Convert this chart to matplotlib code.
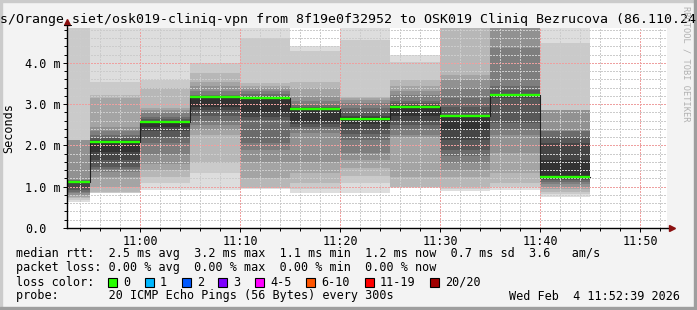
import matplotlib
matplotlib.use('Agg')
import matplotlib.pyplot as plt
from matplotlib.patches import Rectangle
from matplotlib.ticker import MultipleLocator

#Data: minutes relative to 11:00, each step is 5 minutes long
bar_start = [-10, -5, 0, 5, 10, 15, 20, 25, 30, 35, 40]
step_len = 5
median_ms = [1.12, 2.08, 2.57, 3.18, 3.14, 2.88, 2.65, 2.93, 2.72, 3.23, 1.24]

#sorted 20 ping results per step (ms)
pings_ms = [
    [0.64, 0.68, 0.72, 0.76, 0.80, 0.84, 0.88, 0.92, 0.96, 1.08, 1.14, 1.15, 1.15, 1.16, 1.16, 2.13, 2.13, 2.13, 4.90, 5.00],
    [0.84, 0.86, 0.88, 1.00, 1.24, 1.35, 1.42, 1.49, 1.65, 1.85, 2.10, 2.13, 2.18, 2.25, 2.34, 2.46, 3.14, 3.22, 3.55, 5.00],
    [0.92, 1.10, 1.24, 1.40, 1.56, 1.80, 2.05, 2.21, 2.34, 2.45, 2.58, 2.60, 2.65, 2.70, 2.78, 2.86, 2.90, 3.39, 3.59, 5.00],
    [0.92, 1.33, 1.57, 2.26, 2.38, 2.50, 2.60, 2.71, 2.85, 2.94, 3.19, 3.20, 3.21, 3.22, 3.31, 3.43, 3.55, 3.75, 3.99, 5.00],
    [0.95, 0.96, 0.97, 1.21, 1.60, 1.89, 2.06, 2.62, 2.70, 2.78, 3.15, 3.16, 3.20, 3.25, 3.31, 3.39, 3.45, 3.51, 4.60, 5.00],
    [0.85, 0.95, 1.09, 1.33, 1.61, 2.30, 2.41, 2.46, 2.52, 2.57, 2.88, 2.90, 2.94, 2.98, 3.08, 3.18, 3.40, 3.55, 4.28, 4.40],
    [0.84, 1.08, 1.25, 1.45, 1.65, 1.81, 2.13, 2.29, 2.40, 2.52, 2.68, 2.72, 2.80, 2.90, 3.02, 3.10, 3.15, 3.18, 4.56, 5.00],
    [0.98, 0.99, 1.00, 1.24, 2.20, 2.25, 2.40, 2.50, 2.60, 2.71, 2.94, 2.97, 3.02, 3.07, 3.23, 3.33, 3.43, 3.59, 4.03, 4.19],
    [0.90, 0.95, 1.00, 1.24, 1.40, 1.57, 1.75, 1.89, 2.13, 2.37, 2.73, 2.75, 2.94, 3.14, 3.40, 3.59, 3.71, 5.00, 5.00, 5.00],
    [0.92, 1.00, 1.08, 1.33, 1.81, 2.25, 2.40, 2.54, 3.15, 3.20, 3.24, 3.26, 3.35, 3.43, 4.36, 5.00, 5.00, 5.00, 5.00, 5.00],
    [0.75, 0.82, 0.88, 0.94, 1.00, 1.06, 1.12, 1.16, 1.19, 1.22, 1.65, 2.06, 2.20, 2.34, 2.34, 2.86, 2.86, 2.86, 4.48, 5.00],
]

x_ticks = [0, 10, 20, 30, 40, 50]
x_labels = ['11:00', '11:10', '11:20', '11:30', '11:40', '11:50']
y_ticks = [0, 1, 2, 3, 4]
y_labels = ['0.0', '1.0 m', '2.0 m', '3.0 m', '4.0 m']
x_min, x_max = -7.3, 52.7
y_max = 4.848

loss_labels = ['0', '1', '2', '3', '4-5', '6-10', '11-19', '20/20']
loss_colors = ['#26ff00', '#00b8ff', '#0059ff', '#7e00ff', '#ff00ff', '#ff5500', '#ff0000', '#a10000']
loss_box_x = [108, 145, 182, 218, 255, 306, 365, 430]

title = 's/Orange_siet/osk019-cliniq-vpn from 8f19e0f32952 to OSK019 Cliniq Bezrucova (86.110.24'
stats_lines = [
    'median rtt:  2.5 ms avg  3.2 ms max  1.1 ms min  1.2 ms now  0.7 ms sd  3.6   am/s',
    'packet loss: 0.00 % avg  0.00 % max  0.00 % min  0.00 % now',
    'loss color:',
    'probe:       20 ICMP Echo Pings (56 Bytes) every 300s',
]
stamp = 'Wed Feb  4 11:52:39 2026'

W, H = 697, 310
mono = 'DejaVu Sans Mono'

def fx(px):
    return px / W

def fy(py):
    return 1 - py / H

fig = plt.figure(figsize=(W / 100, H / 100), dpi=100)
fig.patch.set_facecolor('#f3f3f3')

#3d border like rrdtool
fig.patches.append(Rectangle((0, fy(2)), 1, 2 / H, transform=fig.transFigure, color='#cbcbcb', zorder=0))
fig.patches.append(Rectangle((0, 0), 2 / W, 1, transform=fig.transFigure, color='#cbcbcb', zorder=0))
fig.patches.append(Rectangle((0, 0), 1, 3 / H, transform=fig.transFigure, color='#9e9e9e', zorder=0))
fig.patches.append(Rectangle((1 - 3 / W, 0), 3 / W, 1, transform=fig.transFigure, color='#9e9e9e', zorder=0))

ax = fig.add_axes([fx(67), fy(228), fx(600), 200 / H])
ax.set_facecolor('white')

#smoke: outer band lightest, inner band darkest
for k in range(10):
    shade = 50 + 19 * (9 - k)
    col = '#%02x%02x%02x' % (shade, shade, shade)
    lows = [p[k] for p in pings_ms]
    highs = [p[19 - k] for p in pings_ms]
    ax.bar(bar_start, [h - l for h, l in zip(highs, lows)], bottom=lows, width=step_len,
           align='edge', color=col, linewidth=0, zorder=1)

#median line
ends = [s + step_len for s in bar_start]
ax.step(bar_start + [ends[-1]], median_ms + [median_ms[-1]], where='post', color='#202020', lw=0.8, zorder=4)
ax.hlines(median_ms, bar_start, ends, colors='#26ff00', lw=1.7, zorder=5)

ax.set_xlim(x_min, x_max)
ax.set_ylim(0, y_max)

#grid, crisp 1px dots
ax.xaxis.set_minor_locator(MultipleLocator(2))
ax.yaxis.set_minor_locator(MultipleLocator(0.2))
ax.grid(which='minor', color='#cccccc', linestyle=(0, (1, 1)), lw=0.75, antialiased=False)
ax.grid(which='major', color='#eea0a0', linestyle=(0, (1, 1)), lw=0.75, antialiased=False)

ax.set_xticks(x_ticks)
ax.set_xticklabels(x_labels, fontfamily=mono, fontsize=8.5)
ax.set_yticks(y_ticks)
ax.set_yticklabels(y_labels, fontfamily=mono, fontsize=8.5, ha='left')
ax.tick_params(axis='y', which='major', pad=27, length=3, width=0.7)
ax.tick_params(axis='x', which='major', pad=2, length=3, width=0.7)
ax.tick_params(which='minor', length=2, width=0.7)

for s in ['top', 'right', 'left', 'bottom']:
    ax.spines[s].set_visible(False)

#axes with arrows
ax.plot([0, 0], [0, 1.03], transform=ax.transAxes, color='black', lw=1, clip_on=False, zorder=6)
ax.plot([0, 1.005], [0, 0], transform=ax.transAxes, color='black', lw=1, clip_on=False, zorder=6)
ax.plot(0, 1.03, marker='^', markersize=4.5, color='#8b1010', transform=ax.transAxes, clip_on=False, zorder=7)
ax.plot(1.008, 0, marker='>', markersize=4.5, color='#8b1010', transform=ax.transAxes, clip_on=False, zorder=7)

ax.set_ylabel('Seconds', fontfamily=mono, fontsize=8.5)
ax.yaxis.set_label_coords((15 - 67) / 600, 0.5)

#title and side text
fig.text(fx(0), fy(19), title, fontfamily=mono, fontsize=9.5, ha='left', va='center')
fig.text(fx(686), fy(6), 'RRDTOOL / TOBI OETIKER', fontfamily=mono, fontsize=6.2,
         color='#b0b0b0', rotation=270, ha='center', va='top')

#legend block
line_y = [254, 268, 282, 296]
for txt, yy in zip(stats_lines, line_y):
    fig.text(fx(16), fy(yy), txt, fontfamily=mono, fontsize=8.5, ha='left', va='center')
fig.text(fx(680), fy(296), stamp, fontfamily=mono, fontsize=8.5, ha='right', va='center')

for lab, col, bx in zip(loss_labels, loss_colors, loss_box_x):
    fig.patches.append(Rectangle((fx(bx), fy(287)), 9 / W, 9 / H, transform=fig.transFigure,
                                 facecolor=col, edgecolor='black', lw=0.8))
    fig.text(fx(bx + 15), fy(282), lab, fontfamily=mono, fontsize=8.5, ha='left', va='center')

fig.savefig('out.png', dpi=100, facecolor=fig.get_facecolor())
